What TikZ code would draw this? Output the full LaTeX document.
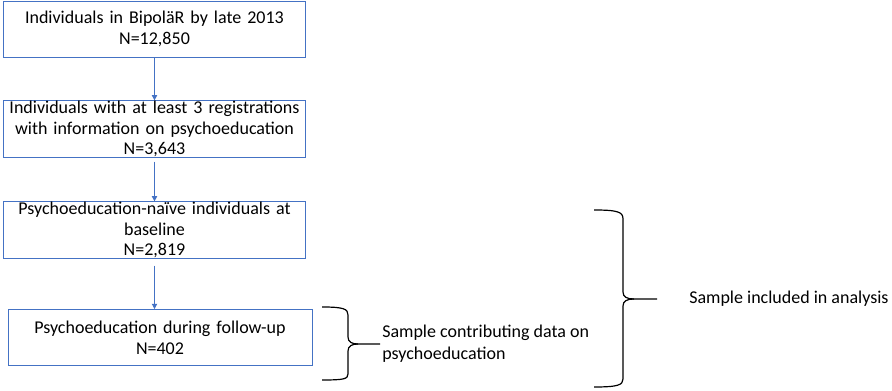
\documentclass[tikz,border=0pt]{standalone}
\usepackage{fontspec}
\setmainfont{Carlito}
\usetikzlibrary{arrows.meta}
\definecolor{boxblue}{RGB}{68,114,196}

\begin{document}
\begin{tikzpicture}[x=0.75pt,y=-0.75pt,
		flow box/.style={rectangle,draw=boxblue,line width=0.6pt,minimum width=227pt,minimum height=42pt,
			inner sep=0pt,text width=225pt,align=center,font=\fontsize{13.5}{15.6}\selectfont},
		flow arrow/.style={-{Triangle[length=4pt,width=4pt]},draw=boxblue,line width=0.6pt},
		brace line/.style={draw=black,line width=0.9pt},
		side label/.style={anchor=west,align=left,inner sep=0pt,font=\fontsize{13.5}{16.5}\selectfont}
		]
		
		\useasboundingbox (0,0) rectangle (892,391);
		
		\node[flow box] at (154.5,29) (reg) {Individuals in BipoläR by late 2013\\N=12,850};
		\node[flow box] at (154.5,129) (three) {Individuals with at least 3 registrations\\with information on psychoeducation\\N=3,643};
		\node[flow box] at (154.5,230) (naive) {Psychoeducation-naïve individuals at\\baseline\\N=2,819};
		\node[flow box,minimum width=228pt] at (160,337.5) (follow) {Psychoeducation during follow-up\\N=402};
		
		\draw[flow arrow] (reg.south) -- (three.north);
		\draw[flow arrow] (three.south) ++(0,4) -- (naive.north);
		\draw[flow arrow] (naive.south) ++(0,7) -- (naive.south |- follow.north);
		
		% small brace
		\draw[brace line] (322,307) .. controls (344,307) and (348,309) .. (348,315) -- (348,337)
			.. controls (348,342) and (352,344) .. (358,344) -- (380,344);
		\draw[brace line] (358,344) .. controls (352,344) and (348,346) .. (348,351) -- (348,374)
			.. controls (348,379) and (344,380) .. (322,380);
		\node[side label] at (382,344) (contrib) {Sample contributing data on\\psychoeducation};
		
		% large brace
		\draw[brace line] (594,210) .. controls (618,210) and (623,212) .. (623,219) -- (623,292)
			.. controls (623,297) and (627,299) .. (634,299) -- (657,299);
		\draw[brace line] (634,299) .. controls (627,299) and (623,301) .. (623,306) -- (623,379)
			.. controls (623,385) and (618,387) .. (594,387);
		\node[side label] at (689,299) (analysis) {Sample included in analysis};
		
\end{tikzpicture}
\end{document}
